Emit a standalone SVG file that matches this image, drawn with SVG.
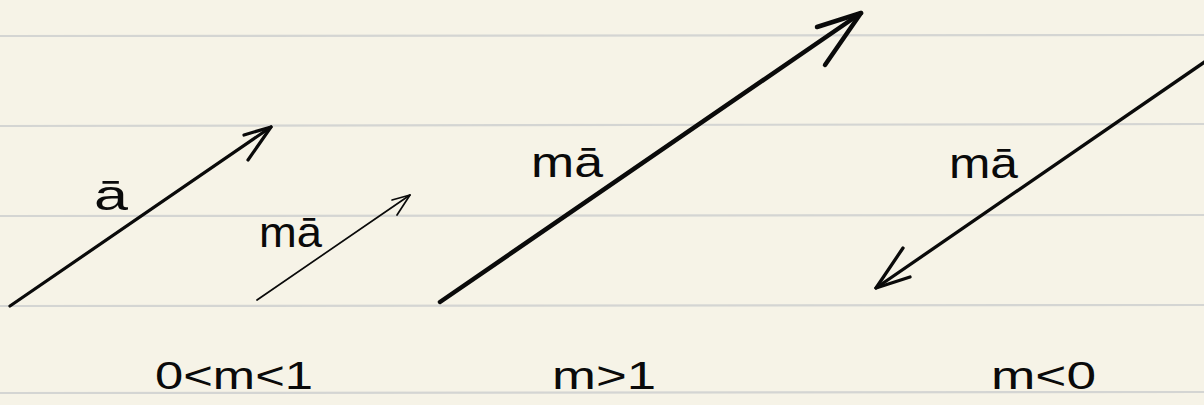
<svg xmlns="http://www.w3.org/2000/svg" width="1204" height="405" viewBox="0 0 1204 405">
  <defs>
    <style>
      .paper { fill: #f6f3e7; }
      .rule { stroke: #d4d5d3; stroke-width: 2.2; }
      .vec { fill: none; stroke: #0a0a0a; stroke-linecap: round; stroke-linejoin: round; }
      .lbl { font-family: "Liberation Sans", "DejaVu Sans", sans-serif; font-size: 42px; fill: #0a0a0a; }
      .cap { font-family: "Liberation Sans", "DejaVu Sans", sans-serif; font-size: 38px; fill: #0a0a0a; }
    </style>
  </defs>

  <g id="paper">
    <rect class="paper" x="0" y="0" width="1204" height="405"/>
    <line class="rule" x1="0" y1="36" x2="1204" y2="35"/>
    <line class="rule" x1="0" y1="126" x2="1204" y2="124"/>
    <line class="rule" x1="0" y1="216" x2="1204" y2="215"/>
    <line class="rule" x1="0" y1="306" x2="1204" y2="305"/>
    <line class="rule" x1="0" y1="393" x2="1204" y2="392"/>
  </g>

  <g id="connectors">
    <g id="vec-a">
      <path class="vec" stroke-width="3.2" d="M10 306 L271 127"/>
      <path class="vec" stroke-width="3.2" d="M244 135 L271 127 L248 160"/>
    </g>
    <g id="vec-ma-small">
      <path class="vec" stroke-width="1.7" d="M257 300 L410 195"/>
      <path class="vec" stroke-width="1.7" d="M392 200 L410 195 L397 215"/>
    </g>
    <g id="vec-ma-large">
      <path class="vec" stroke-width="4.5" d="M440 302 L861 13"/>
      <path class="vec" stroke-width="4.5" d="M817 27 L861 13 L825 65"/>
    </g>
    <g id="vec-ma-neg">
      <path class="vec" stroke-width="3.3" d="M1206 61 L876 288"/>
      <path class="vec" stroke-width="3.3" d="M903 248 L876 288 L910 277"/>
    </g>
  </g>

  <g id="label-a">
    <text class="lbl" x="94" y="210" textLength="34" lengthAdjust="spacingAndGlyphs">ā</text>
  </g>
  <g id="label-ma-small">
    <text class="lbl" x="259" y="247" textLength="63" lengthAdjust="spacingAndGlyphs">mā</text>
  </g>
  <g id="label-ma-large">
    <text class="lbl" x="531" y="177" textLength="72" lengthAdjust="spacingAndGlyphs">mā</text>
  </g>
  <g id="label-ma-neg">
    <text class="lbl" x="949" y="178" textLength="69" lengthAdjust="spacingAndGlyphs">mā</text>
  </g>

  <g id="caption-1">
    <text class="cap" x="155" y="389" textLength="158" lengthAdjust="spacingAndGlyphs">0&lt;m&lt;1</text>
  </g>
  <g id="caption-2">
    <text class="cap" x="552" y="389" textLength="104" lengthAdjust="spacingAndGlyphs">m&gt;1</text>
  </g>
  <g id="caption-3">
    <text class="cap" x="991" y="389" textLength="105" lengthAdjust="spacingAndGlyphs">m&lt;0</text>
  </g>
</svg>
